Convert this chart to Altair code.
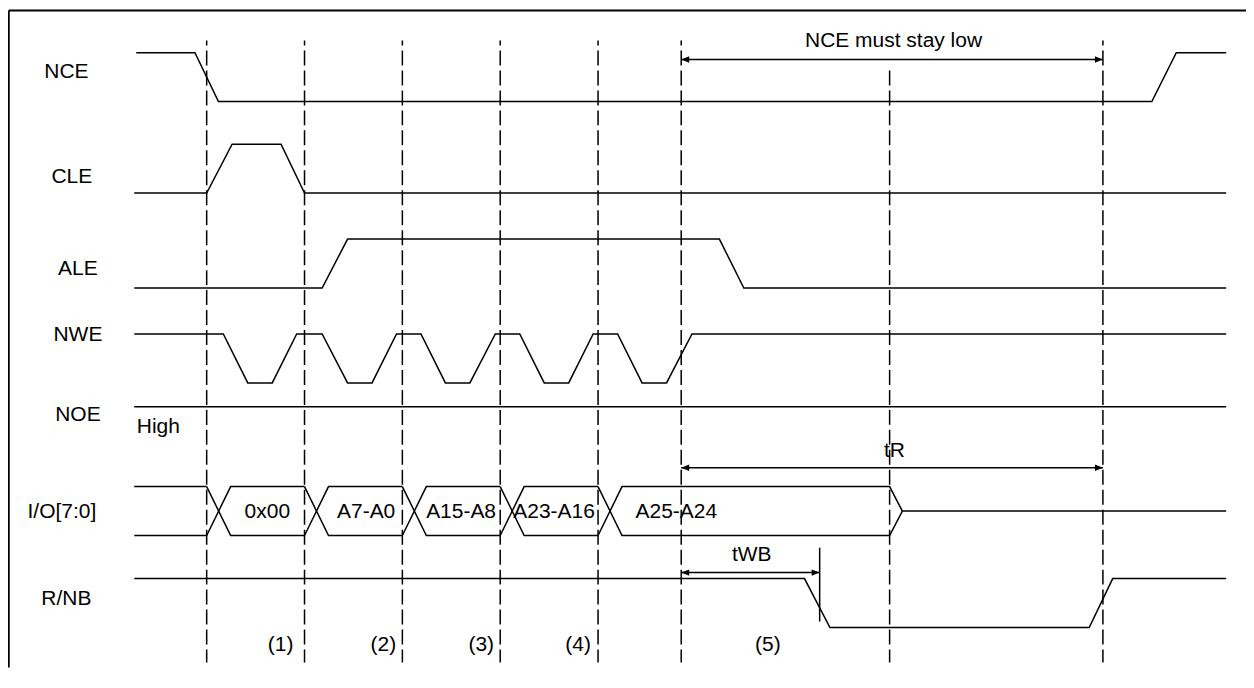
import altair as alt
import pandas as pd

# ---------------- data (time in units: 1 write cycle = 10 units, levels 0/1) ----------------
lanes = ["NCE", "CLE", "ALE", "NWE", "NOE", "I/O[7:0]", "R/NB"]
lane_base = [12.22, 10.35, 8.41, 6.47, 4.98, 3.35, 1.47]     # row offsets (row units)
lane_label_t = [-14.34, -13.78, -13.16, -13.16, -13.16, -14.8, -14.34]
lane_label_y = [0.49, 0.20, 0.26, 0.86, 0.71, 0.36, 0.47]   # relative to row base

nce_t = [-7.2, -1.2, 1.2, 96.6, 99.1, 104.2]
nce_v = [1, 1, 0, 0, 1, 1]
cle_t = [-7.4, 0.0, 2.6, 7.6, 10.0, 104.2]
cle_v = [0, 0, 1, 1, 0, 0]
ale_t = [-7.4, 11.8, 14.4, 52.4, 54.9, 104.2]
ale_v = [0, 0, 1, 1, 0, 0]
nwe_t = [-7.4,
         1.7, 4.2, 6.7, 9.2,
         11.8, 14.4, 16.9, 19.4,
         21.9, 24.4, 26.9, 29.5,
         32.0, 34.5, 37.0, 39.5,
         42.0, 44.5, 47.0, 49.6,
         104.2]
nwe_v = [1,
         1, 0, 0, 1,
         1, 0, 0, 1,
         1, 0, 0, 1,
         1, 0, 0, 1,
         1, 0, 0, 1,
         1]
noe_t = [-7.4, 104.2]
noe_v = [1, 1]
rnb_t = [-7.4, 61.1, 63.7, 90.2, 92.6, 104.2]
rnb_v = [1, 1, 0, 0, 1, 1]

bus_start = -7.4
bus_edges = [0.0, 10.0, 20.0, 30.0, 40.0]
bus_slope = 2.45
bus_hold_end = 69.8
bus_release = 71.1
bus_end = 104.2
bus_labels = ["0x00", "A7-A0", "A15-A8", "A23-A16", "A25-A24"]
bus_label_t = [6.2, 16.3, 26.0, 35.5, 48.0]

cycle_marks = [0.0, 10.0, 20.0, 30.0, 40.0, 48.5, 91.6]
mid_mark = 69.8
step_labels = ["(1)", "(2)", "(3)", "(4)", "(5)"]
step_t = [7.55, 18.06, 28.06, 37.96, 57.35]

arrow_names = ["NCE must stay low", "tR", "tWB"]
arrow_t1 = [48.5, 48.5, 48.5]
arrow_t2 = [91.6, 91.6, 62.65]
arrow_y = [13.08, 4.735, 2.592]
arrow_label_t = [70.2, 70.3, 55.7]
arrow_label_y = [13.327, 4.959, 2.837]
twb_mark_t = 62.65
twb_mark_y = [1.592, 3.102]

# ---------------- layout ----------------
W, H = 1240, 660
T_MIN, T_MAX = -20.306, 106.224
Y_MIN, Y_MAX = 0.653, 14.1224
DASH_TOP, DASH_TOP_MID, DASH_BOT = 13.469, 12.857, 0.755
BORDER_Y = 14.082
BORDER_T = -20.23
FONT = "Liberation Sans"
FS = 21


def X(field):
    return alt.X(field, scale=alt.Scale(domain=[T_MIN, T_MAX], nice=False, zero=False), axis=None)


def Y(field):
    return alt.Y(field, scale=alt.Scale(domain=[Y_MIN, Y_MAX], nice=False, zero=False), axis=None)


# ---------------- waveform table ----------------
rows = []


def add_poly(seg, lane_i, ts, vs):
    for k, (t, v) in enumerate(zip(ts, vs)):
        rows.append({"seg": seg, "idx": k, "t": t, "lvl": lane_base[lane_i] + v})


add_poly("NCE", 0, nce_t, nce_v)
add_poly("CLE", 1, cle_t, cle_v)
add_poly("ALE", 2, ale_t, ale_v)
add_poly("NWE", 3, nwe_t, nwe_v)
add_poly("NOE", 4, noe_t, noe_v)
add_poly("RNB", 6, rnb_t, rnb_v)

# I/O bus
add_poly("io_pre_top", 5, [bus_start, bus_edges[0]], [1, 1])
add_poly("io_pre_bot", 5, [bus_start, bus_edges[0]], [0, 0])
for j, c in enumerate(bus_edges):
    if j + 1 < len(bus_edges):
        nxt = bus_edges[j + 1]
        add_poly(f"io_top{j}", 5, [c, c + bus_slope, nxt], [0, 1, 1])
        add_poly(f"io_bot{j}", 5, [c, c + bus_slope, nxt], [1, 0, 0])
    else:
        add_poly(f"io_top{j}", 5, [c, c + bus_slope, bus_hold_end, bus_release, bus_end],
                 [0, 1, 1, 0.5, 0.5])
        add_poly(f"io_bot{j}", 5, [c, c + bus_slope, bus_hold_end, bus_release],
                 [1, 0, 0, 0.5])
waves = pd.DataFrame(rows)

wave_layer = alt.Chart(waves).mark_line(color="black", strokeWidth=1.5).encode(
    x=X("t:Q"), y=Y("lvl:Q"), detail="seg:N", order="idx:Q",
)

# dashed cycle markers
dash_df = pd.DataFrame({"t": cycle_marks, "ya": [DASH_TOP] * len(cycle_marks),
                        "yb": [DASH_BOT] * len(cycle_marks)})
dash_layer = alt.Chart(dash_df).mark_rule(color="black", strokeWidth=1.5,
                                          strokeDash=[15, 5], strokeDashOffset=10).encode(
    x=X("t:Q"), y=Y("ya:Q"), y2="yb:Q")
dash_mid = alt.Chart(pd.DataFrame({"t": [mid_mark], "ya": [DASH_TOP_MID], "yb": [DASH_BOT]})
                     ).mark_rule(color="black", strokeWidth=1.5, strokeDash=[15, 5]).encode(
    x=X("t:Q"), y=Y("ya:Q"), y2="yb:Q")

# arrows
arr_df = pd.DataFrame({"name": arrow_names, "ta": arrow_t1, "tb": arrow_t2, "ay": arrow_y,
                       "lt": arrow_label_t, "ly": arrow_label_y})
arrow_lines = alt.Chart(arr_df).mark_rule(color="black", strokeWidth=1.5).encode(
    x=X("ta:Q"), x2="tb:Q", y=Y("ay:Q"))
head_right = alt.Chart(arr_df).mark_point(shape="M0,0L-1,-0.4L-1,0.4Z", filled=True,
                                          size=256, color="black", opacity=1).encode(
    x=X("tb:Q"), y=Y("ay:Q"))
head_left = alt.Chart(arr_df).mark_point(shape="M0,0L1,-0.4L1,0.4Z", filled=True,
                                         size=256, color="black", opacity=1).encode(
    x=X("ta:Q"), y=Y("ay:Q"))
arrow_text = alt.Chart(arr_df).mark_text(font=FONT, fontSize=FS, baseline="alphabetic",
                                         align="center", color="black").encode(
    x=X("lt:Q"), y=Y("ly:Q"), text="name:N")
twb_mark = alt.Chart(pd.DataFrame({"t": [twb_mark_t], "ya": [twb_mark_y[0]],
                                   "yb": [twb_mark_y[1]]})).mark_rule(
    color="black", strokeWidth=1.5).encode(x=X("t:Q"), y=Y("ya:Q"), y2="yb:Q")

# signal names
lab_df = pd.DataFrame({"name": lanes, "t": lane_label_t,
                       "ly": [b + o for b, o in zip(lane_base, lane_label_y)]})
lane_text = alt.Chart(lab_df).mark_text(font=FONT, fontSize=FS, baseline="alphabetic",
                                        align="center", color="black").encode(
    x=X("t:Q"), y=Y("ly:Q"), text="name:N")
high_text = alt.Chart(pd.DataFrame({"name": ["High"], "t": [-7.14],
                                    "ly": [lane_base[4] + 0.469]})).mark_text(
    font=FONT, fontSize=FS, baseline="alphabetic", align="left", color="black").encode(
    x=X("t:Q"), y=Y("ly:Q"), text="name:N")

# bus values
bus_df = pd.DataFrame({"name": bus_labels, "t": bus_label_t,
                       "ly": [lane_base[5] + 0.367] * len(bus_labels)})
bus_text = alt.Chart(bus_df).mark_text(font=FONT, fontSize=FS, baseline="alphabetic",
                                       align="center", color="black").encode(
    x=X("t:Q"), y=Y("ly:Q"), text="name:N")

# step numbers
step_df = pd.DataFrame({"name": step_labels, "t": step_t, "ly": [0.98] * len(step_labels)})
step_text = alt.Chart(step_df).mark_text(font=FONT, fontSize=FS, baseline="alphabetic",
                                         align="center", color="black").encode(
    x=X("t:Q"), y=Y("ly:Q"), text="name:N")

# frame (top and left edges)
frame_top = alt.Chart(pd.DataFrame({"ta": [BORDER_T], "tb": [T_MAX], "ay": [BORDER_Y]})).mark_rule(
    color="black", strokeWidth=2).encode(x=X("ta:Q"), x2="tb:Q", y=Y("ay:Q"))
frame_left = alt.Chart(pd.DataFrame({"t": [BORDER_T], "ya": [BORDER_Y], "yb": [Y_MIN]})).mark_rule(
    color="black", strokeWidth=2).encode(x=X("t:Q"), y=Y("ya:Q"), y2="yb:Q")

chart = alt.layer(
    frame_top, frame_left, dash_layer, dash_mid, wave_layer,
    arrow_lines, head_left, head_right, twb_mark,
    arrow_text, lane_text, high_text, bus_text, step_text,
).properties(
    width=W, height=H, padding=0, autosize=alt.AutoSizeParams(type="none"),
    background="white",
).configure_view(stroke=None)

chart.save("out.html", embed_options={"renderer": "svg", "actions": False})
